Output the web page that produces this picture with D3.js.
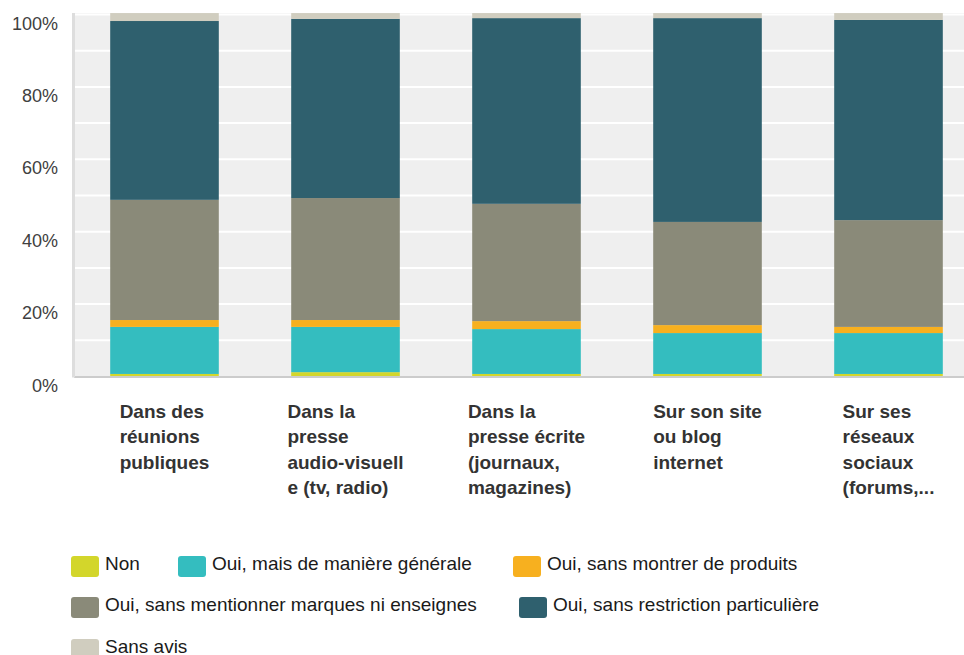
<!DOCTYPE html>
<html>
<head>
<meta charset="utf-8">
<script src="https://cdn.jsdelivr.net/npm/d3@7"></script>
<style>
  html, body { margin: 0; padding: 0; background: #fff; }
  svg { display: block; font-family: "Liberation Sans", Arial, sans-serif; }
</style>
</head>
<body>
<svg id="chart" width="964" height="655"></svg>
<script>
const categories = [
  ["Dans des", "réunions", "publiques"],
  ["Dans la", "presse", "audio-visuell", "e (tv, radio)"],
  ["Dans la", "presse écrite", "(journaux,", "magazines)"],
  ["Sur son site", "ou blog", "internet"],
  ["Sur ses", "réseaux", "sociaux", "(forums,..."]
];
const seriesNames = [
  "Non",
  "Oui, mais de manière générale",
  "Oui, sans montrer de produits",
  "Oui, sans mentionner marques ni enseignes",
  "Oui, sans restriction particulière",
  "Sans avis"
];
const nonValues        = [0.7, 1.2, 0.7, 0.7, 0.7];
const generaleValues   = [13.0, 12.5, 12.4, 11.3, 11.3];
const produitsValues   = [1.9, 1.9, 2.2, 2.2, 1.7];
const marquesValues    = [33.2, 33.7, 32.4, 28.5, 29.5];
const restrictionValues= [49.4, 49.5, 51.3, 56.3, 55.3];
const sansAvisValues   = [2.2, 1.6, 1.4, 1.4, 1.9];
const seriesValues = [nonValues, generaleValues, produitsValues, marquesValues, restrictionValues, sansAvisValues];
const colors = ["#d3d62b", "#34bdbf", "#f7b01f", "#8a8a79", "#2f606e", "#d0cdbf"];
const yTicks = [0, 20, 40, 60, 80, 100];

const svg = d3.select("#chart");
const pLeft = 74, pRight = 979, pTop = 14.5, pBottom = 376.5;

const x = d3.scaleBand().domain(d3.range(categories.length)).range([pLeft, pRight]).paddingInner(0.4).paddingOuter(0.2);
const y = d3.scaleLinear().domain([0, 100]).range([pBottom, pTop]);

// plot background
svg.append("rect").attr("x", pLeft).attr("y", 13).attr("width", 964 - pLeft).attr("height", pBottom - 13).attr("fill", "#efefef");

// gridlines every 10%
svg.append("g").selectAll("line").data(d3.range(10, 101, 10)).join("line")
  .attr("x1", pLeft).attr("x2", 964)
  .attr("y1", d => y(d)).attr("y2", d => y(d))
  .attr("stroke", "#ffffff").attr("stroke-width", 2);

// stacked data
const rows = categories.map((c, i) => {
  const o = { i };
  seriesNames.forEach((s, k) => o[s] = seriesValues[k][i]);
  return o;
});
const stack = d3.stack().keys(seriesNames)(rows);

svg.append("g").selectAll("g").data(stack).join("g")
  .attr("fill", (d, k) => colors[k])
  .selectAll("rect").data(d => d).join("rect")
  .attr("x", d => x(d.data.i))
  .attr("width", x.bandwidth())
  .attr("y", d => y(d[1]))
  .attr("height", d => y(d[0]) - y(d[1]));

// axes lines
svg.append("line").attr("x1", pLeft).attr("x2", 964).attr("y1", pBottom + 0.5).attr("y2", pBottom + 0.5)
  .attr("stroke", "#cccccc").attr("stroke-width", 2);
svg.append("line").attr("x1", pLeft - 0.5).attr("x2", pLeft - 0.5).attr("y1", 13).attr("y2", pBottom + 1)
  .attr("stroke", "#dddddd").attr("stroke-width", 3);

// y tick labels
svg.append("g").selectAll("text").data(yTicks).join("text")
  .attr("x", 58).attr("y", d => y(d) + 15)
  .attr("text-anchor", "end")
  .attr("font-size", 18).attr("fill", "#404040")
  .text(d => d + "%");

// x labels: left-aligned lines, block centered on band
const xl = svg.append("g");
categories.forEach((lines, i) => {
  const g = xl.append("g");
  const texts = lines.map((t, j) => g.append("text")
    .attr("y", 418 + j * 25.3)
    .attr("font-size", 19).attr("font-weight", "bold").attr("fill", "#333333")
    .text(t));
  const w = d3.max(texts, t => t.node().getComputedTextLength());
  const cx = x(i) + x.bandwidth() / 2;
  texts.forEach(t => t.attr("x", cx - w / 2));
});

// legend
const legendItems = [
  { k: 0, x: 71, y: 556 },
  { k: 1, x: 178, y: 556 },
  { k: 2, x: 513, y: 556 },
  { k: 3, x: 71, y: 597 },
  { k: 4, x: 519, y: 597 },
  { k: 5, x: 71, y: 639 }
];
const lg = svg.append("g").selectAll("g").data(legendItems).join("g")
  .attr("transform", d => `translate(${d.x},${d.y})`);
lg.append("rect").attr("width", 28).attr("height", 21).attr("rx", 3).attr("fill", d => colors[d.k]);
lg.append("text").attr("x", 34).attr("y", 14).attr("font-size", 19).attr("fill", "#1a1a1a")
  .text(d => seriesNames[d.k]);
</script>
</body>
</html>
